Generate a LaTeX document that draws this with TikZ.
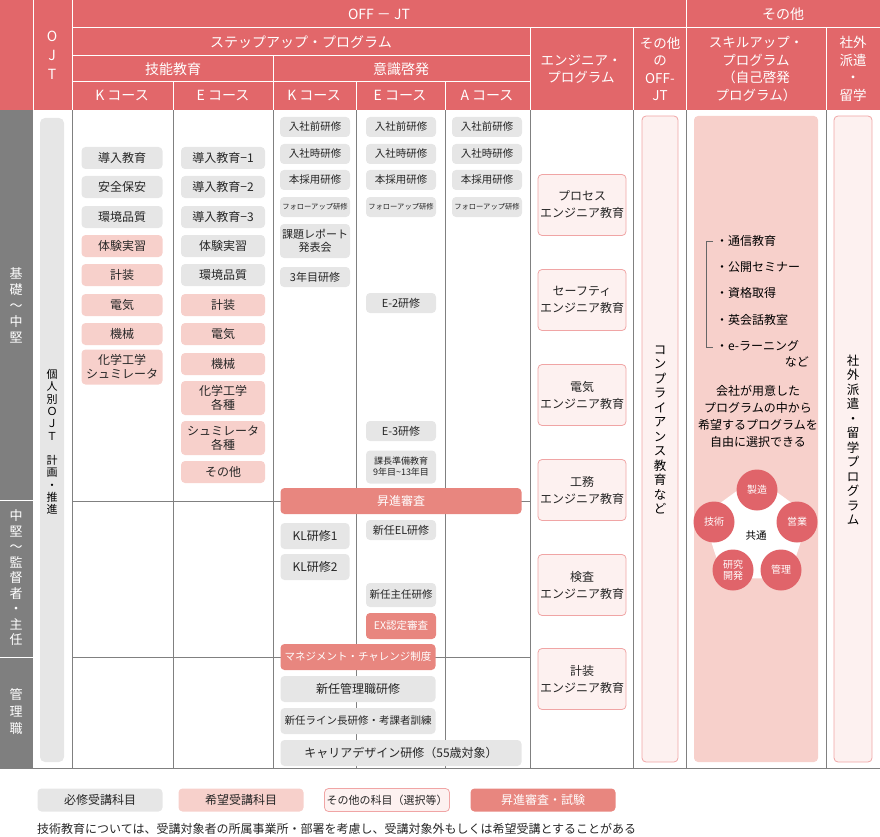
\documentclass[tikz,border=0pt]{standalone}
\usepackage{fontspec}
\setmainfont{Noto Sans CJK JP}
\usetikzlibrary{shapes.geometric}
\definecolor{hred}{HTML}{E2676A}
\definecolor{lgray}{HTML}{E6E6E6}
\definecolor{dgray}{HTML}{7F7F7F}
\definecolor{lpink}{HTML}{F7D0CB}
\definecolor{vpink}{HTML}{FDF1F0}
\definecolor{bpink}{HTML}{F0A5A5}
\definecolor{salmon}{HTML}{E8867F}
\definecolor{circ}{HTML}{E0646A}
\begin{document}
\begin{tikzpicture}[x=1pt,y=-1pt,
  box/.style={rounded corners=4pt,inner sep=1pt,align=center,font=\fontsize{12}{14}\selectfont,text=black!85},
  req/.style={box,fill=lgray},
  opt/.style={box,fill=lpink},
  oth/.style={box,fill=vpink,draw=bpink,line width=0.8pt},
  exam/.style={box,fill=salmon,text=white},
  hd/.style={text=white,align=center,font=\fontsize{14}{16}\selectfont},
  h2/.style={hd,font=\fontsize{13.5}{17.5}\selectfont},
  grid/.style={draw=black!50,line width=0.7pt},
  f10/.style={font=\fontsize{10.5}{12}\selectfont},
  f8/.style={font=\fontsize{7.3}{9}\selectfont},
  vt/.style={align=center,inner sep=0pt,font=\fontsize{12.5}{14.5}\selectfont}]
\useasboundingbox (0,0) rectangle (880,837);
% header
\fill[hred] (0,0) rectangle (880,110);
\fill[dgray] (0,110) rectangle (33,768);
\draw[white,line width=1pt] (72,28)--(880,28) (72,56)--(530,56) (72,82)--(530,82)
 (33,0)--(33,110) (72,0)--(72,110) (686,0)--(686,110) (273,56)--(273,110)
 (173,82)--(173,110) (356,82)--(356,110) (445,82)--(445,110) (530,28)--(530,110)
 (633,28)--(633,110) (826,28)--(826,110) (0,500)--(33,500) (0,657)--(33,657);
\node[hd] (h1) at (379,14) {OFF － JT};
\node[hd] (h2) at (783,14) {その他};
\node[hd] (h3) at (301,42) {ステップアップ・プログラム};
\node[hd] (h4) at (173,69) {技能教育};
\node[hd] (h5) at (401,69) {意識啓発};
\node[hd] (h6) at (122,96) {K コース};
\node[hd] (h7) at (223,96) {E コース};
\node[hd] (h8) at (314,96) {K コース};
\node[hd] (h9) at (400,96) {E コース};
\node[hd] (h10) at (487,96) {A コース};
\node[h2] (h11) at (581,69) {エンジニア・\\プログラム};
\node[h2] (h12) at (660,69) {その他\\の\\OFF-\\JT};
\node[h2] (h13) at (756,69) {スキルアップ・\\プログラム\\（自己啓発\\プログラム）};
\node[h2] (h14) at (853,69) {社外\\派遣\\・\\留学};
\node[hd,font=\fontsize{14}{19}\selectfont] (h15) at (52,55) {O\\J\\T};
% left labels
\node[vt,text=white,font=\fontsize{13}{16}\selectfont] (l1) at (16,305) {基\\礎\\～\\中\\堅};
\node[vt,text=white,font=\fontsize{13}{15.5}\selectfont] (l2) at (16,578) {中\\堅\\～\\監\\督\\者\\・\\主\\任};
\node[vt,text=white,font=\fontsize{13}{17}\selectfont] (l3) at (16,712) {管\\理\\職};
% grid
\draw[grid] (72,110)--(72,768) (173,110)--(173,768) (273,110)--(273,768) (356,110)--(356,768)
 (445,110)--(445,768) (530,110)--(530,768) (633,110)--(633,768) (686,110)--(686,768) (826,110)--(826,768)
 (72,501)--(530,501) (72,657)--(530,657) (0,768)--(880,768);
% OJT bar
\fill[lgray,rounded corners=5pt] (40,118) rectangle (64,762);
\node[vt,font=\fontsize{11}{12.3}\selectfont] (ojt) at (52,442) {個\\人\\別\\Ｏ\\Ｊ\\Ｔ\\\\計\\画\\・\\推\\進};
% K skill
\node[req,minimum width=81,minimum height=22] (k1) at (122,158) {導入教育};
\node[req,minimum width=81,minimum height=22] (k2) at (122,187) {安全保安};
\node[req,minimum width=81,minimum height=22] (k3) at (122,217) {環境品質};
\node[opt,minimum width=81,minimum height=22] (k4) at (122,246) {体験実習};
\node[opt,minimum width=81,minimum height=22] (k5) at (122,275) {計装};
\node[opt,minimum width=81,minimum height=22] (k6) at (122,305) {電気};
\node[opt,minimum width=81,minimum height=22] (k7) at (122,334) {機械};
\node[opt,minimum width=81,minimum height=35] (k8) at (122,367) {化学工学\\シュミレータ};
% E skill
\node[req,minimum width=84,minimum height=22] (e1) at (223,158) {導入教育−1};
\node[req,minimum width=84,minimum height=22] (e2) at (223,187) {導入教育−2};
\node[req,minimum width=84,minimum height=22] (e3) at (223,217) {導入教育−3};
\node[req,minimum width=84,minimum height=22] (e4) at (223,246) {体験実習};
\node[req,minimum width=84,minimum height=22] (e5) at (223,275) {環境品質};
\node[opt,minimum width=84,minimum height=22] (e6) at (223,305) {計装};
\node[opt,minimum width=84,minimum height=22] (e7) at (223,334) {電気};
\node[opt,minimum width=84,minimum height=22] (e8) at (223,364) {機械};
\node[opt,minimum width=84,minimum height=34] (e9) at (223,398) {化学工学\\各種};
\node[opt,minimum width=84,minimum height=34] (e10) at (223,438) {シュミレータ\\各種};
\node[opt,minimum width=84,minimum height=22] (e11) at (223,472) {その他};
% K ishiki
\node[req,minimum width=70,minimum height=20,f10] (ik1) at (315,127) {入社前研修};
\node[req,minimum width=70,minimum height=20,f10] (ik2) at (315,154) {入社時研修};
\node[req,minimum width=70,minimum height=20,f10] (ik3) at (315,180) {本採用研修};
\node[req,minimum width=70,minimum height=20,f8] (ik4) at (315,207) {フォローアップ研修};
\node[req,minimum width=70,minimum height=34,font=\fontsize{11}{13.5}\selectfont] (ik5) at (315,241) {課題レポート\\発表会};
\node[req,minimum width=70,minimum height=20,font=\fontsize{11}{12}\selectfont] (ik6) at (315,277) {3年目研修};
% E ishiki
\node[req,minimum width=70,minimum height=20,f10] (ie1) at (401,127) {入社前研修};
\node[req,minimum width=70,minimum height=20,f10] (ie2) at (401,154) {入社時研修};
\node[req,minimum width=70,minimum height=20,f10] (ie3) at (401,180) {本採用研修};
\node[req,minimum width=70,minimum height=20,f8] (ie4) at (401,207) {フォローアップ研修};
\node[req,minimum width=70,minimum height=20,font=\fontsize{11}{12}\selectfont] (ie5) at (401,303) {E-2研修};
\node[req,minimum width=70,minimum height=20,font=\fontsize{11}{12}\selectfont] (ie6) at (401,431) {E-3研修};
\node[req,minimum width=70,minimum height=33,font=\fontsize{9}{11}\selectfont] (ie7) at (401,467) {課長準備教育\\9年目\textasciitilde13年目};
% A
\node[req,minimum width=70,minimum height=20,f10] (a1) at (487,127) {入社前研修};
\node[req,minimum width=70,minimum height=20,f10] (a2) at (487,154) {入社時研修};
\node[req,minimum width=70,minimum height=20,f10] (a3) at (487,180) {本採用研修};
\node[req,minimum width=70,minimum height=20,f8] (a4) at (487,207) {フォローアップ研修};
% middle
\node[exam,minimum width=241,minimum height=26] (sj) at (401,501) {昇進審査};
\node[req,minimum width=69,minimum height=26] (kl1) at (315,536) {KL研修1};
\node[req,minimum width=69,minimum height=26] (kl2) at (315,567) {KL研修2};
\node[req,minimum width=70,minimum height=20,font=\fontsize{11}{12}\selectfont] (el) at (401,530) {新任EL研修};
\node[req,minimum width=70,minimum height=24,font=\fontsize{10.5}{12}\selectfont] (sh) at (401,595) {新任主任研修};
\node[exam,minimum width=70,minimum height=26,font=\fontsize{10.5}{12}\selectfont] (ex) at (401,626) {EX認定審査};
\node[exam,minimum width=155,minimum height=26,font=\fontsize{10.5}{12}\selectfont] (mc) at (358,657) {マネジメント・チャレンジ制度};
\node[req,minimum width=155,minimum height=26] (kk) at (358,689) {新任管理職研修};
\node[req,minimum width=155,minimum height=26,font=\fontsize{10.5}{12}\selectfont] (lc) at (358,721) {新任ライン長研修・考課者訓練};
\node[req,minimum width=241,minimum height=26] (cd) at (401,753) {キャリアデザイン研修（55歳対象）};
% engineer
\foreach \n/\y/\t in {p1/205/プロセス,p2/300/セーフティ,p3/395/電気,p4/490/工務,p5/585/検査,p6/679/計装}
  \node[oth,minimum width=88,minimum height=61,font=\fontsize{12}{17}\selectfont] (\n) at (582,\y) {\t\\エンジニア教育};
% other off-jt
\node[oth,minimum width=36,minimum height=646] (oj) at (660,439) {};
\node[vt] (ojt2) at (660,430) {コ\\ン\\プ\\ラ\\イ\\ア\\ン\\ス\\教\\育\\な\\ど};
% skill up
\node[box,fill=lpink,minimum width=124,minimum height=646] (su) at (756,439) {};
\draw[black!60,line width=0.6pt] (713,241)--(706,241)--(706,347)--(713,347);
\foreach \y/\t [count=\i] in {241/・通信教育,267/・公開セミナー,293/・資格取得,320/・英会話教室,346/・e-ラーニング}
  \node[anchor=west,inner sep=0pt,font=\fontsize{12}{13}\selectfont] (s\i) at (716,\y) {\t};
\node[anchor=east,inner sep=0pt,font=\fontsize{12}{13}\selectfont] (nd) at (809,362) {など};
\node[align=center,font=\fontsize{12}{17}\selectfont,inner sep=0pt] (ch) at (758,416) {会社が用意した\\プログラムの中から\\希望するプログラムを\\自由に選択できる};
\node[regular polygon,regular polygon sides=5,fill=white,minimum size=112,inner sep=0pt] (pg) at (756,533) {};
\node[font=\fontsize{10.5}{11}\selectfont] (kt) at (756,536) {共通};
\foreach \n/\x/\y/\t in {c1/757/490/製造,c2/797/522/営業,c3/781/570/管理,c4/733/570/研究\\開発,c5/714/522/技術}
  \node[circle,fill=circ,text=white,minimum size=41,inner sep=0pt,align=center,font=\fontsize{10}{10.5}\selectfont] (\n) at (\x,\y) {\t};
% shagai
\node[oth,minimum width=38,minimum height=646] (sg) at (853,439) {};
\node[vt] (sgt) at (853,440) {社\\外\\派\\遣\\・\\留\\学\\プ\\ロ\\グ\\ラ\\ム};
% legend
\node[req,minimum width=125,minimum height=23] (lg1) at (100,800) {必修受講科目};
\node[opt,minimum width=125,minimum height=23] (lg2) at (241,800) {希望受講科目};
\node[oth,minimum width=125,minimum height=23,font=\fontsize{11}{12}\selectfont] (lg3) at (387,800) {その他の科目（選択等）};
\node[exam,minimum width=145,minimum height=23] (lg4) at (543,800) {昇進審査・試験};
\node[anchor=west,inner sep=0pt,font=\fontsize{12}{13}\selectfont,text=black!85] (ft) at (37,829) {技術教育については、受講対象者の所属事業所・部署を考慮し、受講対象外もしくは希望受講とすることがある};
\end{tikzpicture}
\end{document}
